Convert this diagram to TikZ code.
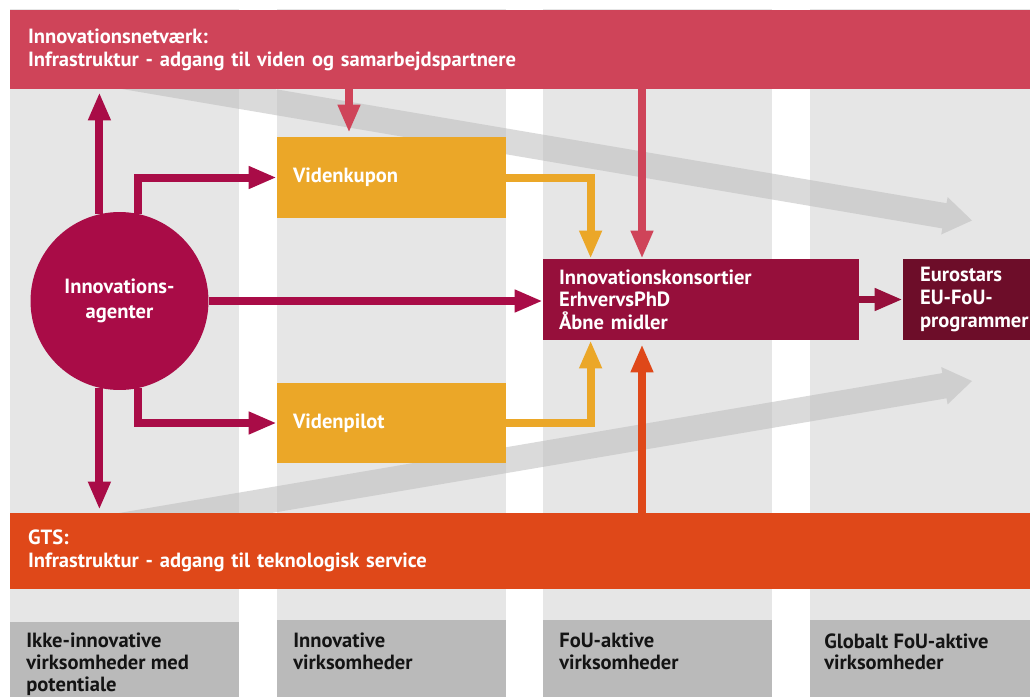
\documentclass[tikz,border=0pt]{standalone}
\usepackage{fontspec}
\setmainfont{PT Sans}
\usepackage{xcolor}
\usepackage{tikz}
\usetikzlibrary{arrows.meta}
\usetikzlibrary{positioning, calc}
\definecolor{netred}{RGB}{207,68,89}
\definecolor{gtsorange}{RGB}{223,72,25}
\definecolor{videnyellow}{RGB}{235,167,40}
\definecolor{agentred}{RGB}{169,12,71}
\definecolor{konsred}{RGB}{150,15,59}
\definecolor{eurored}{RGB}{109,13,41}
\definecolor{colgray}{RGB}{230,230,230}
\definecolor{labgray}{RGB}{186,186,186}
\definecolor{flowgray}{RGB}{189,189,189}
\definecolor{labtext}{RGB}{20,20,20}

\tikzset{
    box/.style={rectangle, inner sep=0pt, inner xsep=0.32cm, text=white, align=left,
        font=\bfseries\fontsize{11.7}{12.9}\selectfont},
    band/.style={box, inner xsep=0.36cm, text width=19.68cm,
        font=\bfseries\fontsize{11.7}{13.1}\selectfont},
    conn/.style={line width=0.16cm, -{Triangle[length=0.56cm,width=0.42cm]}},
    flow/.style={fill=flowgray, fill opacity=0.56},
    collabel/.style={anchor=north west, inner sep=0pt, align=left, text=labtext,
        font=\bfseries\fontsize{11.7}{12.4}\selectfont},
}

\begin{document}
\begin{tikzpicture}[x=0.02cm, y=-0.02cm]
    \useasboundingbox (0,0) rectangle (1030,697);
    \clip (0,0) rectangle (1030,697);

    % columns with the firm types at the foot
    \foreach \xa/\xb/\yl in {
        10/239/622, 277/506/620, 543/772/620, 810/1040/620}
    {
        \fill[colgray] (\xa,9) rectangle (\xb,697);
        \fill[labgray] (\xa,\yl) rectangle (\xb,697);
    }

    \node[collabel] (lab1) at (26,633) {Ikke-innovative\\virksomheder med\\potentiale};
    \node[collabel] (lab2) at (293,633) {Innovative\\virksomheder};
    \node[collabel] (lab3) at (559,633) {FoU-aktive\\virksomheder};
    \node[collabel] (lab4) at (824,633) {Globalt FoU-aktive\\virksomheder};

    % the two broad grey flows
    \fill[flow] (97.9,84.9) -- (942.3,228.4) -- (941.2,234.5) -- (972,220.5)
        -- (947.6,197.1) -- (946.5,203.2) -- (102.1,59.7) -- cycle;
    \fill[flow] (97.9,516.6) -- (942.3,373.1) -- (941.2,367) -- (972,381)
        -- (947.6,404.4) -- (946.5,398.3) -- (102.1,541.8) -- cycle;

    % bands
    \node[band, fill=netred, minimum height=1.58cm] (netband) at (520,49.5)
        {Innovationsnetværk:\\Infrastruktur - adgang til viden og samarbejdspartnere};
    \node[band, fill=gtsorange, minimum height=1.52cm] (gtsband) at (520,551)
        {GTS:\\Infrastruktur - adgang til teknologisk service};

    % boxes
    \node[box, fill=videnyellow, text width=3.94cm, minimum height=1.62cm] (kupon) at (391.5,177.5) {Videnkupon};
    \node[box, fill=videnyellow, text width=3.94cm, minimum height=1.6cm] (pilot) at (391.5,423) {Videnpilot};
    \node[box, fill=konsred, text width=5.68cm, minimum height=1.62cm] (konsort) at (701,299.5)
        {Innovationskonsortier\\ErhvervsPhD\\Åbne midler};
    \node[box, fill=eurored, inner xsep=0.34cm, text width=3.32cm, minimum height=1.62cm] (euro) at (1003,299.5)
        {Eurostars\\EU-FoU-\\programmer};
    \node[circle, fill=agentred, minimum size=3.56cm, inner sep=0pt, text=white, align=center,
        font=\bfseries\fontsize{11.7}{14.2}\selectfont] (agent) at (119.5,301) {Innovations-\\agenter};

    % connectors
    \draw[conn, agentred, shorten >=0.06cm] (agent.103) -- (agent.103 |- netband.south);
    \draw[conn, agentred, shorten >=0.06cm] (agent.-103) -- (agent.-103 |- gtsband.north);
    \draw[conn, agentred] (agent.78) |- (kupon.west);
    \draw[conn, agentred] (agent.-78) |- (pilot.west);
    \draw[conn, agentred] (agent.east) -- (agent.east -| konsort.west);
    \draw[conn, netred, shorten >=0.08cm] (349,0 |- netband.south) -- (349,0 |- kupon.north);
    \draw[conn, netred] (642,0 |- netband.south) -- (642,0 |- konsort.north);
    \draw[conn, gtsorange, shorten >=0.08cm] (642,0 |- gtsband.north) -- (642,0 |- konsort.south);
    \draw[conn, videnyellow] (kupon.east) -| (590.6,0 |- konsort.north);
    \draw[conn, videnyellow] (pilot.east) -| (590.6,0 |- konsort.south);
    \draw[conn, konsred, line width=0.14cm] (konsort.east) -- (konsort.east -| euro.west);
\end{tikzpicture}
\end{document}
